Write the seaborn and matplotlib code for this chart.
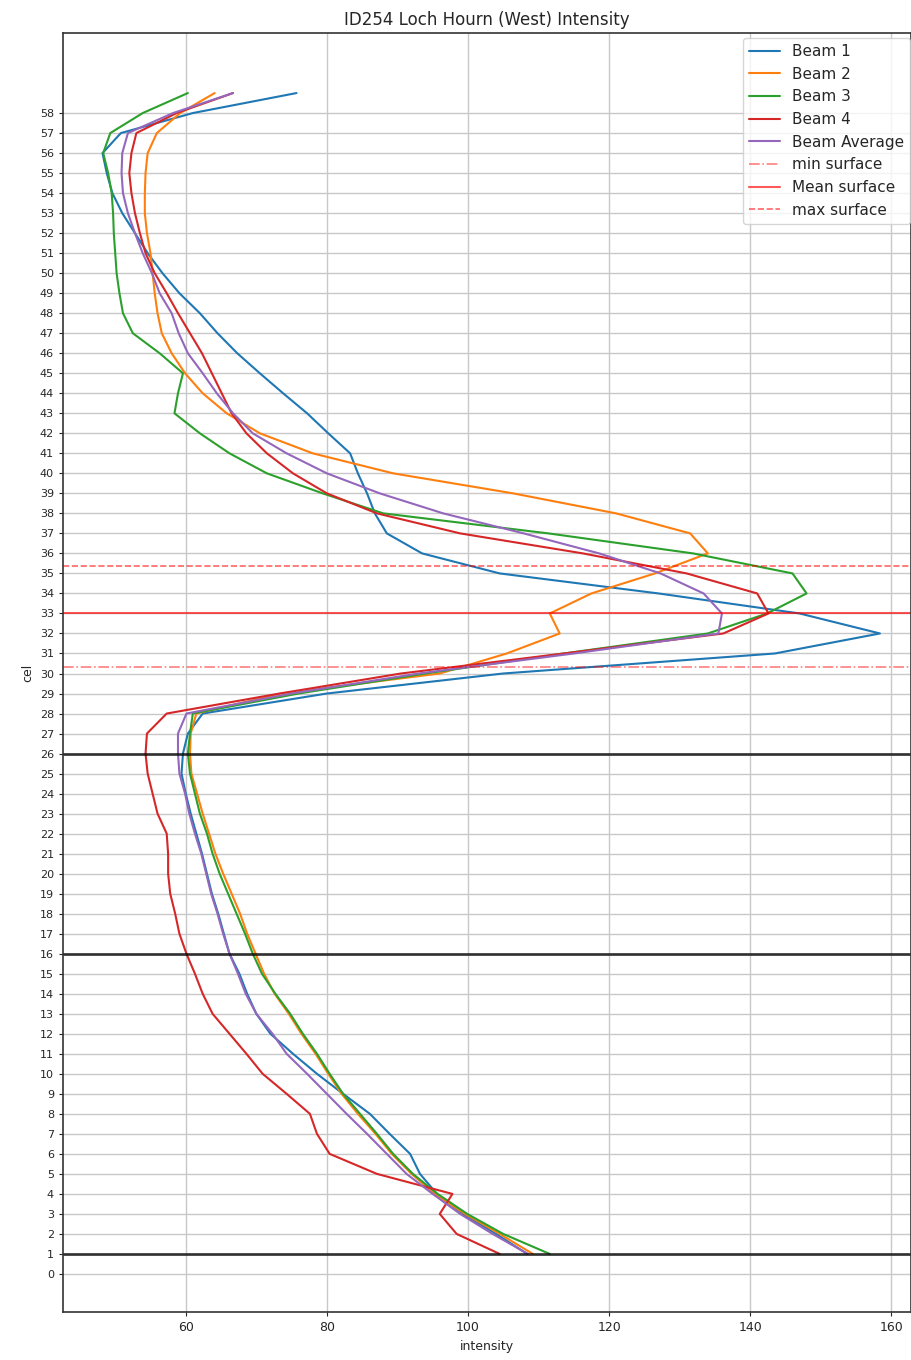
import matplotlib
matplotlib.use("Agg")

import matplotlib.pyplot as plt
import numpy as np
import seaborn as sns

# cell index (bin) for every profile
cells = list(range(1, 60))

beam1 = [108.4, 104.0, 99.3, 95.6, 93.2, 91.8, 88.9, 86.1, 82.3, 78.6,
         75.2, 72.0, 70.0, 68.7, 67.6, 66.2, 65.4, 64.6, 63.7, 63.0,
         62.3, 61.5, 60.7, 60.0, 59.4, 59.6, 60.3, 62.4, 80.0, 105.0,
         143.5, 158.4, 147.0, 127.0, 104.5, 93.5, 88.5, 86.8, 85.7, 84.4,
         83.3, 80.2, 77.2, 73.8, 70.5, 67.3, 64.5, 62.0, 59.1, 56.7,
         54.6, 52.8, 51.0, 49.6, 48.8, 48.2, 50.8, 61.0, 75.7]
beam2 = [109.2, 104.5, 99.6, 95.3, 92.0, 89.2, 86.9, 84.4, 82.1, 80.2,
         78.4, 76.4, 74.6, 72.6, 71.1, 69.9, 68.7, 67.7, 66.5, 65.3,
         64.2, 63.3, 62.4, 61.6, 60.8, 60.6, 60.7, 61.5, 73.5, 96.0,
         105.5, 113.0, 111.6, 117.5, 126.5, 134.0, 131.5, 121.0, 106.4, 89.4,
         78.0, 70.5, 65.8, 62.4, 59.9, 58.0, 56.6, 56.0, 55.6, 55.3,
         55.0, 54.5, 54.2, 54.2, 54.3, 54.6, 55.9, 59.2, 64.1]
beam3 = [111.6, 105.0, 99.9, 95.7, 92.2, 89.4, 87.1, 84.7, 82.3, 80.4,
         78.6, 76.6, 74.8, 72.7, 70.8, 69.5, 68.4, 67.2, 66.0, 64.8,
         63.8, 63.0, 62.0, 61.3, 60.6, 60.3, 60.6, 61.0, 76.0, 94.0,
         113.6, 134.0, 142.4, 148.0, 146.0, 131.9, 111.4, 88.0, 79.4, 71.5,
         66.2, 62.0, 58.4, 58.9, 59.6, 56.3, 52.5, 51.1, 50.6, 50.2,
         50.0, 49.8, 49.7, 49.5, 49.0, 48.3, 49.3, 53.9, 60.3]
beam4 = [104.5, 98.4, 96.0, 97.8, 87.1, 80.4, 78.6, 77.6, 74.3, 70.9,
         68.6, 66.2, 63.8, 62.4, 61.3, 60.1, 59.1, 58.5, 57.8, 57.5,
         57.5, 57.3, 56.0, 55.3, 54.6, 54.3, 54.5, 57.3, 73.3, 90.5,
         113.6, 136.2, 142.6, 141.0, 131.0, 116.3, 98.9, 87.1, 80.0, 75.2,
         71.5, 68.6, 66.5, 65.1, 63.7, 62.3, 60.6, 58.9, 57.3, 55.6,
         54.3, 53.5, 52.8, 52.3, 52.0, 52.3, 53.0, 58.7, 66.7]
beam_avg = [108.5, 103.5, 98.9, 95.0, 91.3, 88.5, 85.7, 82.8, 80.0, 77.2,
            74.3, 72.3, 70.0, 68.5, 67.4, 66.2, 65.3, 64.5, 63.6, 62.9,
            62.2, 61.3, 60.5, 59.9, 59.1, 58.9, 58.9, 60.1, 75.0, 93.0,
            115.0, 135.5, 136.0, 133.4, 127.3, 118.6, 107.9, 96.5, 87.5, 80.0,
            74.3, 69.5, 66.7, 64.4, 62.4, 60.3, 59.0, 58.0, 56.3, 55.2,
            53.9, 52.8, 51.8, 51.1, 50.9, 51.0, 51.8, 58.2, 66.7]

beam_names = ["Beam 1", "Beam 2", "Beam 3", "Beam 4", "Beam Average"]
beam_colors = ["#1f77b4", "#ff7f0e", "#2ca02c", "#d62728", "#9467bd"]

surface_min = 30.32
surface_mean = 33.0
surface_max = 35.37
marker_cells = [1, 16, 26]

sns.set_style("whitegrid", {"axes.edgecolor": "#333333", "grid.color": "#b0b0b0",
                            "xtick.bottom": True, "ytick.left": True})
plt.rcParams["font.family"] = ["DejaVu Sans"]

fig = plt.figure(figsize=(9.11, 13.6), dpi=100)
ax = fig.add_axes([63 / 911, 48 / 1360, 848 / 911, 1279 / 1360])

for name, vals, col in zip(beam_names, [beam1, beam2, beam3, beam4, beam_avg], beam_colors):
    sns.lineplot(x=vals, y=cells, orient="y", color=col, label=name,
                 linewidth=1.5, ax=ax)

ax.axhline(surface_min, color="red", ls="-.", lw=1.2, alpha=0.5, label="min surface")
ax.axhline(surface_mean, color="red", ls="-", lw=1.5, alpha=0.65, label="Mean surface")
ax.axhline(surface_max, color="red", ls="--", lw=1.2, alpha=0.6, label="max surface")
for c in marker_cells:
    ax.axhline(c, color="black", lw=2, alpha=0.75)

ax.set_xlim(42.6, 162.8)
ax.set_ylim(-1.9, 62.0)
ax.set_yticks(np.arange(0, 59))
ax.set_xticks([60, 80, 100, 120, 140, 160])
ax.tick_params(axis="y", labelsize=8, length=3)
ax.tick_params(axis="x", labelsize=9, length=3)
ax.grid(True, color="#c8c8c8", lw=1)
for s in ax.spines.values():
    s.set_linewidth(1.2)

ax.set_title("ID254 Loch Hourn (West) Intensity", fontsize=12)
ax.set_xlabel("intensity", fontsize=9)
ax.set_ylabel("cel", fontsize=9)
ax.legend(loc="upper right", bbox_to_anchor=(1.008, 1.002), fontsize=11,
          labelspacing=0.5)

fig.savefig("out.png", dpi=100)
